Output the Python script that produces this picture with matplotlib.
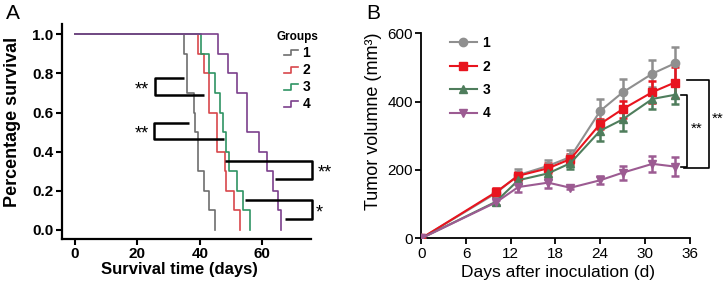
import numpy as np
import matplotlib
matplotlib.use("Agg")
import matplotlib.pyplot as plt
from matplotlib.lines import Line2D
from matplotlib.legend_handler import HandlerBase

plt.rcParams['font.family'] = ['Liberation Sans', 'DejaVu Sans']

# panel A: survival times (days), 10 animals per group
groups = ['1', '2', '3', '4']
surv_times = {
    '1': [35, 36, 36, 38, 38.5, 39.5, 39.5, 41.5, 43, 44.8],
    '2': [39.5, 41.5, 43, 43, 45.5, 45.5, 48, 48.5, 51, 53],
    '3': [40.5, 43, 45, 46.5, 47.5, 48.5, 49.5, 52, 54, 56],
    '4': [46, 49, 52, 55, 55, 59, 61.5, 63.5, 65, 66],
}
colors_a = ['#6e6e6e', '#d8474c', '#2f9463', '#7b3f8c']

# panel B: tumor volume
days = [0, 10, 13, 17, 20, 24, 27, 31, 34]
vol = {
    '1': [0, 132, 185, 212, 238, 373, 427, 482, 512],
    '2': [0, 135, 183, 205, 232, 335, 378, 428, 456],
    '3': [0, 107, 170, 190, 220, 315, 348, 408, 420],
    '4': [0, 105, 150, 163, 148, 170, 192, 218, 210],
}
err = {
    '1': [0, 12, 18, 16, 20, 35, 40, 40, 48],
    '2': [0, 12, 12, 15, 15, 15, 25, 32, 44],
    '3': [0, 10, 12, 15, 18, 30, 35, 30, 28],
    '4': [0, 8, 15, 15, 5, 12, 20, 23, 27],
}
colors_b = ['#8f8f8f', '#e8141e', '#4f7d5c', '#9c5b92']
markers_b = ['o', 's', '^', 'v']


def km(times):
    t = np.sort(np.array(times, dtype=float))
    n = len(t)
    x = np.concatenate([[0], t])
    y = np.concatenate([[1.0], 1 - np.arange(1, n + 1) / n])
    return x, y


class StepHandler(HandlerBase):
    def create_artists(self, legend, orig_handle, xdescent, ydescent,
                       width, height, fontsize, trans):
        w, h = width, height
        xs = [-xdescent, -xdescent + w * 0.5, -xdescent + w * 0.5, -xdescent + w]
        ys = [-ydescent + h * 0.15, -ydescent + h * 0.15, -ydescent + h * 0.75, -ydescent + h * 0.75]
        ln = Line2D(xs, ys, color=orig_handle.get_color(), lw=1.2)
        ln.set_transform(trans)
        return [ln]


fig = plt.figure(figsize=(7.26, 2.91), dpi=100)

# ---------------- panel A
axA = fig.add_axes([0.0854, 0.1787, 0.343, 0.739])
handles = []
for g, c in zip(groups, colors_a):
    x, y = km(surv_times[g])
    ln, = axA.step(x, y, where='post', color=c, lw=1.2, label=g)
    handles.append(ln)

axA.set_xlim(-4.2, 75.7)
axA.set_ylim(-0.046, 1.053)
axA.set_xticks([0, 20, 40, 60])
axA.set_yticks([0, 0.2, 0.4, 0.6, 0.8, 1.0])
axA.set_yticklabels(['%.1f' % v for v in [0, 0.2, 0.4, 0.6, 0.8, 1.0]])
for s in ['top', 'right']:
    axA.spines[s].set_visible(False)
for s in ['left', 'bottom']:
    axA.spines[s].set_linewidth(1.6)
axA.tick_params(direction='out', length=4, width=1.5, labelsize=11, pad=2)
for lab in axA.get_xticklabels() + axA.get_yticklabels():
    lab.set_fontweight('bold')
axA.set_xlabel('Survival time (days)', fontsize=12, fontweight='bold')
axA.set_ylabel('Percentage survival', fontsize=13, fontweight='bold')
axA.xaxis.set_label_coords(0.47, -0.105)
axA.yaxis.set_label_coords(-0.165, 0.545)

# significance brackets A
kw = dict(color='black', lw=1.8, clip_on=False, solid_capstyle='butt')
axA.plot([35.0, 25.8, 25.8, 41.4], [0.775, 0.775, 0.69, 0.69], **kw)
axA.plot([36.5, 25.3, 25.3, 47.7], [0.549, 0.549, 0.465, 0.465], **kw)
axA.plot([48.0, 76.0, 76.0, 64.2], [0.354, 0.354, 0.259, 0.259], **kw)
axA.plot([54.4, 76.0, 76.0, 67.4], [0.153, 0.153, 0.056, 0.056], **kw)
axA.text(21.3, 0.715, '**', fontsize=13, ha='center', va='center')
axA.text(21.3, 0.49, '**', fontsize=13, ha='center', va='center')
axA.text(80.0, 0.29, '**', fontsize=13, ha='center', va='center', clip_on=False)
axA.text(78.5, 0.085, '*', fontsize=13, ha='center', va='center', clip_on=False)

legA = axA.legend(handles=handles, handler_map={Line2D: StepHandler()},
                  title='Groups', loc='upper center', bbox_to_anchor=(0.945, 1.0),
                  frameon=False, borderpad=0, handlelength=1.0, handletextpad=0.3,
                  labelspacing=0.22, prop={'weight': 'bold', 'size': 10},
                  title_fontproperties={'weight': 'bold', 'size': 8.5})

# ---------------- panel B
axB = fig.add_axes([0.5803, 0.181, 0.3697, 0.7045])
lines = []
for g, c, m in zip(groups, colors_b, markers_b):
    axB.errorbar(days, vol[g], yerr=err[g], fmt='none', ecolor=c,
                 elinewidth=1.8, capsize=3, capthick=1.8, zorder=2)
    ln, = axB.plot(days, vol[g], color=c, marker=m, ms=6, lw=1.5,
                   mec=c, mfc=c, label=g, zorder=3)
    lines.append(ln)

axB.set_xlim(0, 36)
axB.set_ylim(0, 600)
axB.set_xticks(range(0, 37, 6))
axB.set_yticks([0, 200, 400, 600])
for s in ['top', 'right']:
    axB.spines[s].set_visible(False)
for s in ['left', 'bottom']:
    axB.spines[s].set_linewidth(1.3)
axB.tick_params(direction='out', length=4, width=1.3, labelsize=11, pad=2)
axB.set_xlabel('Days after inoculation (d)', fontsize=12.5)
axB.set_ylabel('Tumor volumne (mm³)', fontsize=13)
axB.xaxis.set_label_coords(0.509, -0.13)
axB.yaxis.set_label_coords(-0.145, 0.57)

kwb = dict(color='black', lw=1.2, clip_on=False)
axB.plot([34.9, 35.6, 35.6, 34.9], [420, 420, 210, 210], **kwb)
axB.plot([35.6, 38.6, 38.6, 35.2], [463, 463, 205, 205], **kwb)
axB.text(36.9, 320, '**', fontsize=11, ha='center', va='center')
axB.text(39.8, 350, '**', fontsize=11, ha='center', va='center', clip_on=False)

axB.legend(handles=lines, loc='upper left', bbox_to_anchor=(0.08, 1.02),
           frameon=False, borderpad=0, handlelength=1.95, handletextpad=0.4,
           labelspacing=0.68, prop={'weight': 'bold', 'size': 10})

fig.text(0.008, 0.955, 'A', fontsize=15, ha='left', va='center')
fig.text(0.505, 0.955, 'B', fontsize=15, ha='left', va='center')

fig.savefig('out.png', dpi=100)
